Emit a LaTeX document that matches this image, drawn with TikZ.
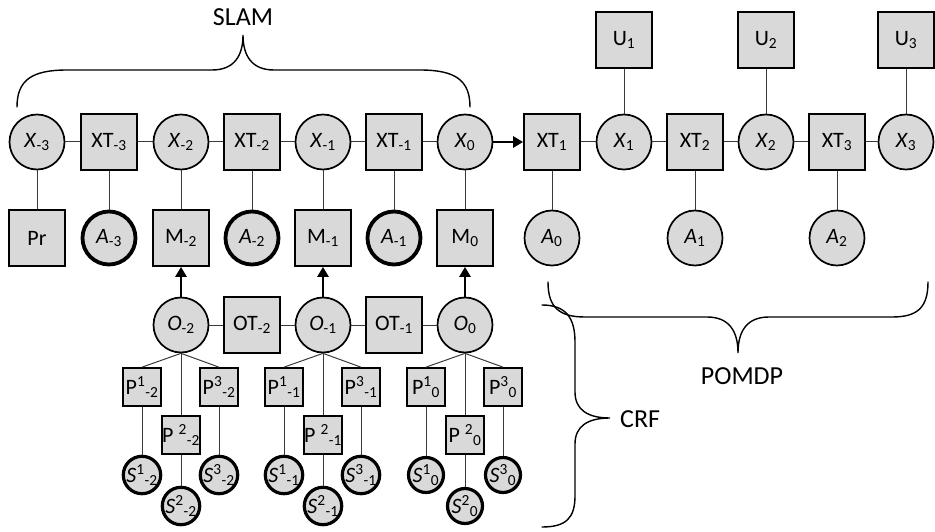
\documentclass[tikz,border=0pt]{standalone}
\usepackage{fontspec}
\setmainfont{Carlito}
\usetikzlibrary{arrows.meta}
\definecolor{nodefill}{HTML}{D9D9D9}
\definecolor{wirecol}{HTML}{3A3A3A}
% italic variable with upright index, and upright factor with index
\newcommand\vsub[2]{\textit{#1}\textsubscript{#2}}
\newcommand\fsub[2]{#1\textsubscript{#2}}

\begin{document}
\begin{tikzpicture}[x=1pt,y=-1pt,
  every node/.style={font=\fontsize{22}{26}\selectfont, inner sep=0pt},
  factor/.style={rectangle, draw, fill=nodefill, line width=1.7pt, minimum size=56pt},
  vnode/.style={circle, draw, fill=nodefill, line width=1.7pt, minimum size=55pt},
  act/.style={vnode, line width=3.8pt, minimum size=53pt},
  pbox/.style={rectangle, draw, fill=nodefill, line width=1.7pt, minimum size=38pt},
  snode/.style={circle, draw, fill=nodefill, line width=3.2pt, minimum size=35pt},
  wire/.style={draw=wirecol, line width=1pt},
  flow/.style={line width=2.6pt, -{Triangle[length=10pt,width=11pt]}},
  bracepath/.style={line width=1.4pt, line cap=round},
  tag/.style={font=\fontsize{26}{30}\selectfont}
]
\useasboundingbox (0,0) rectangle (935,532);

% state chain
\node[vnode]  (xm3)  at (37,142)  {\vsub{X}{-3}};
\node[factor] (txm3) at (109,142) {\fsub{XT}{-3}};
\node[vnode]  (xm2)  at (181,142) {\vsub{X}{-2}};
\node[factor] (txm2) at (252,142) {\fsub{XT}{-2}};
\node[vnode]  (xm1)  at (323,142) {\vsub{X}{-1}};
\node[factor] (txm1) at (394,142) {\fsub{XT}{-1}};
\node[vnode]  (x0)   at (465,142) {\vsub{X}{0}};
\node[factor] (tx1)  at (552,142) {\fsub{XT}{1}};
\node[vnode]  (x1)   at (624,142) {\vsub{X}{1}};
\node[factor] (tx2)  at (695,142) {\fsub{XT}{2}};
\node[vnode]  (x2)   at (766,142) {\vsub{X}{2}};
\node[factor] (tx3)  at (837,142) {\fsub{XT}{3}};
\node[vnode]  (x3)   at (906,142) {\vsub{X}{3}};

% utilities
\node[factor] (u1) at (624,40) {\fsub{U}{1}};
\node[factor] (u2) at (766,40) {\fsub{U}{2}};
\node[factor] (u3) at (906,40) {\fsub{U}{3}};

% prior, actions and measurements
\node[factor] (pr)  at (37,238)  {Pr};
\node[act]    (am3) at (109,238) {\vsub{A}{-3}};
\node[factor] (mm2) at (181,238) {\fsub{M}{-2}};
\node[act]    (am2) at (252,238) {\vsub{A}{-2}};
\node[factor] (mm1) at (323,238) {\fsub{M}{-1}};
\node[act]    (am1) at (394,238) {\vsub{A}{-1}};
\node[factor] (m0)  at (465,238) {\fsub{M}{0}};
\node[vnode]  (a0)  at (552,238) {\vsub{A}{0}};
\node[vnode]  (a1)  at (695,238) {\vsub{A}{1}};
\node[vnode]  (a2)  at (837,238) {\vsub{A}{2}};

% observation chain
\node[vnode]  (om2)  at (181,325) {\vsub{O}{-2}};
\node[factor] (otm2) at (252,325) {\fsub{OT}{-2}};
\node[vnode]  (om1)  at (323,325) {\vsub{O}{-1}};
\node[factor] (otm1) at (394,325) {\fsub{OT}{-1}};
\node[vnode]  (o0)   at (465,325) {\vsub{O}{0}};

% part factors and part states below each observation
\foreach \c/\k/\sb in {181/m2/-2, 323/m1/-1, 465/0/0}{
  \node[pbox]  (p1\k) at (\c-39,387) {P\textsuperscript{1}\textsubscript{\sb}};
  \node[pbox]  (p2\k) at (\c,435)    {P\ \textsuperscript{2}\textsubscript{\sb}};
  \node[pbox]  (p3\k) at (\c+38,387) {P\textsuperscript{3}\textsubscript{\sb}};
  \node[snode] (s1\k) at (\c-39,475) {\textit{S}\textsuperscript{1}\textsubscript{\sb}};
  \node[snode] (s2\k) at (\c,506)    {\textit{S}\textsuperscript{2}\textsubscript{\sb}};
  \node[snode] (s3\k) at (\c+38,475) {\textit{S}\textsuperscript{3}\textsubscript{\sb}};
  \draw[wire] (o\k.south) -- (p1\k.north);
  \draw[wire] (o\k.south) -- (p2\k.north);
  \draw[wire] (o\k.south) -- (p3\k.north);
  \draw[wire] (p1\k) -- (s1\k);
  \draw[wire] (p2\k) -- (s2\k);
  \draw[wire] (p3\k) -- (s3\k);
}

% horizontal links
\draw[wire] (xm3) -- (txm3) -- (xm2) -- (txm2) -- (xm1) -- (txm1) -- (x0);
\draw[wire] (tx1) -- (x1) -- (tx2) -- (x2) -- (tx3) -- (x3);
\draw[wire] (om2) -- (otm2) -- (om1) -- (otm1) -- (o0);

% vertical links
\draw[wire] (xm3) -- (pr);
\draw[wire] (txm3) -- (am3);
\draw[wire] (xm2) -- (mm2);
\draw[wire] (txm2) -- (am2);
\draw[wire] (xm1) -- (mm1);
\draw[wire] (txm1) -- (am1);
\draw[wire] (x0) -- (m0);
\draw[wire] (tx1) -- (a0);
\draw[wire] (tx2) -- (a1);
\draw[wire] (tx3) -- (a2);
\draw[wire] (u1) -- (x1);
\draw[wire] (u2) -- (x2);
\draw[wire] (u3) -- (x3);

% directed links
\draw[flow] (x0) -- (tx1);
\draw[flow] (om2) -- (mm2);
\draw[flow] (om1) -- (mm1);
\draw[flow] (o0) -- (m0);

% group braces
\draw[bracepath] (17,107) .. controls (17,80) and (32,70) .. (67,70) -- (212,70)
  .. controls (234,70) and (243,56) .. (243,35)
  .. controls (243,56) and (252,70) .. (274,70) -- (420,70)
  .. controls (455,70) and (470,80) .. (470,107);
\node[tag] (slam) at (243,17) {SLAM};

\draw[bracepath] (548,282) .. controls (548,308) and (560,317) .. (585,317) -- (707,317)
  .. controls (729,317) and (738,331) .. (738,353)
  .. controls (738,331) and (747,317) .. (769,317) -- (892,317)
  .. controls (917,317) and (928,308) .. (928,282);
\node[tag] (pomdp) at (742,376) {POMDP};

\draw[bracepath] (542,305) .. controls (566,305) and (575,318) .. (575,342) -- (575,392)
  .. controls (575,410) and (588,418) .. (610,418)
  .. controls (588,418) and (575,426) .. (575,444) -- (575,496)
  .. controls (575,518) and (566,527) .. (542,527);
\node[tag, anchor=west] (crf) at (620,419) {CRF};
\end{tikzpicture}
\end{document}
